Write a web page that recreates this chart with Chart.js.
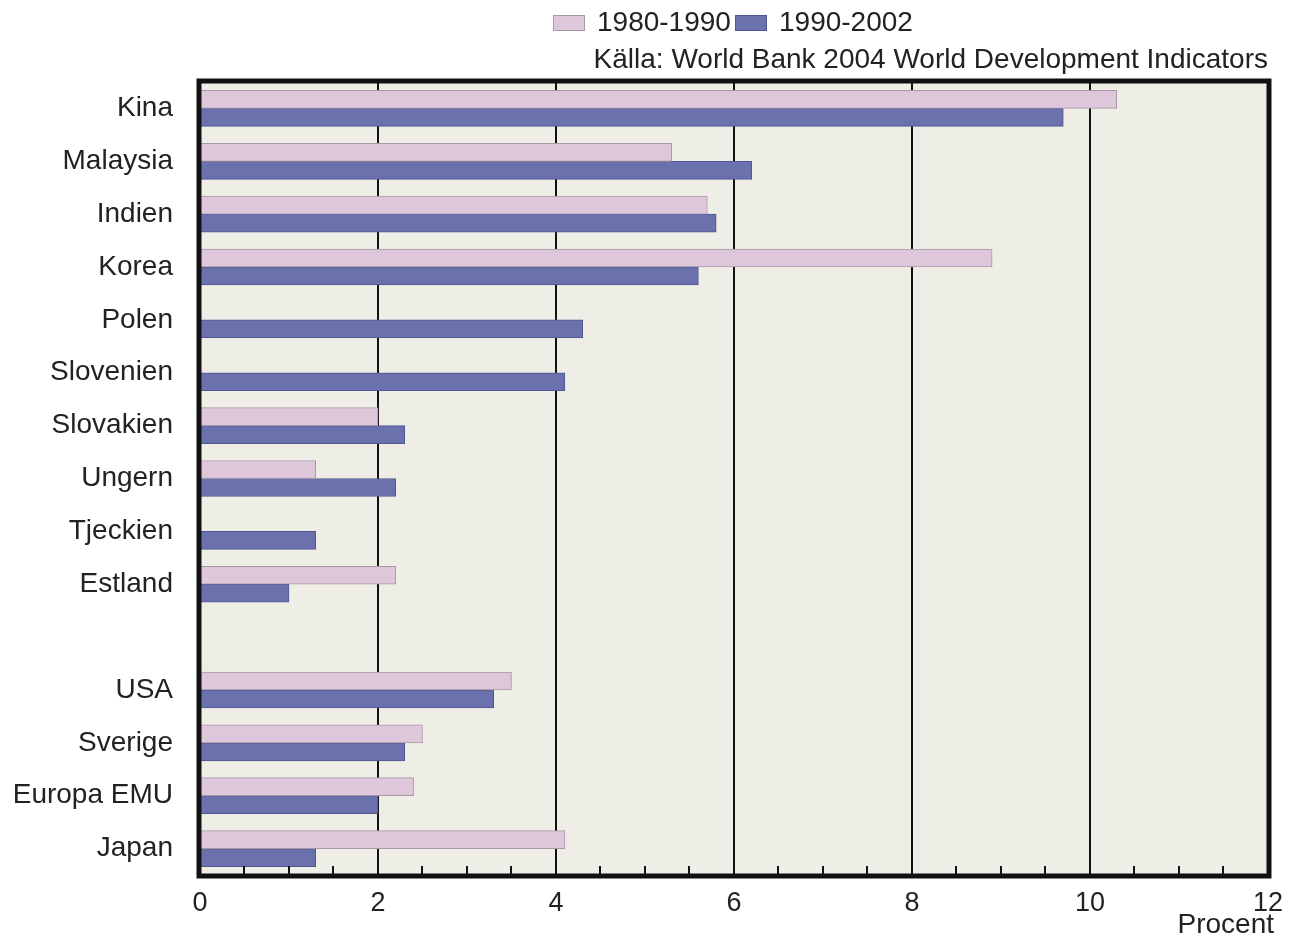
<!DOCTYPE html>
<html>
<head>
<meta charset="utf-8">
<script src="https://cdn.jsdelivr.net/npm/chart.js@4.4.1/dist/chart.umd.min.js"></script>
<style>
  html, body { margin: 0; padding: 0; background: #fff; }
  #wrap { width: 1295px; height: 938px; }
</style>
</head>
<body>
<div id="wrap"><canvas id="chart" width="1295" height="938"></canvas></div>
<script>
/* Data */
const categories = ['Kina', 'Malaysia', 'Indien', 'Korea', 'Polen', 'Slovenien', 'Slovakien',
    'Ungern', 'Tjeckien', 'Estland', '', 'USA', 'Sverige', 'Europa EMU', 'Japan'];
const growth1980_1990 = [10.3, 5.3, 5.7, 8.9, null, null, 2.0, 1.3, null, 2.2, null, 3.5, 2.5, 2.4, 4.1];
const growth1990_2002 = [9.7, 6.2, 5.8, 5.6, 4.3, 4.1, 2.3, 2.2, 1.3, 1.0, null, 3.3, 2.3, 2.0, 1.3];
const seriesNames = ['1980-1990', '1990-2002'];
const sourceText = 'Källa: World Bank 2004 World Development Indicators';
const unitText = 'Procent';

const PINK = '#dec7da', PINK_EDGE = '#a898a6';
const BLUE = '#6a71ad', BLUE_EDGE = '#4f5690';
const FONT = '"Liberation Sans", Arial, sans-serif';
const TXT = '#222';

/* Background, frame, minor ticks and texts */
const decor = {
    id: 'decor',
    beforeDraw(chart){
        const a = chart.chartArea, ctx = chart.ctx;
        ctx.save();
        ctx.fillStyle = '#efeee6';
        ctx.fillRect(a.left, a.top, a.right - a.left, a.bottom - a.top);
        ctx.restore();
    },
    afterDatasetsDraw(chart){
        const a = chart.chartArea, ctx = chart.ctx, x = chart.scales.x;
        ctx.save();
        // minor ticks on the bottom axis
        ctx.strokeStyle = '#111';
        ctx.lineWidth = 2;
        for(let v = 0.5; v < 12; v += 0.5){
            if(v % 2 == 0) continue;
            const px = Math.round(x.getPixelForValue(v));
            ctx.beginPath();
            ctx.moveTo(px, a.bottom);
            ctx.lineTo(px, a.bottom - 9);
            ctx.stroke();
        }
        // frame
        ctx.lineWidth = 5;
        ctx.strokeStyle = '#111';
        ctx.strokeRect(a.left - 1, a.top - 1, a.right - a.left + 2, a.bottom - a.top + 2);

        // legend
        ctx.font = '28px ' + FONT;
        ctx.textBaseline = 'middle';
        ctx.textAlign = 'left';
        const boxX = [553, 735];
        const ly = 23;
        const swatches = [[PINK, PINK_EDGE], [BLUE, BLUE_EDGE]];
        seriesNames.forEach(function(name, i){
            const lx = boxX[i];
            ctx.fillStyle = swatches[i][0];
            ctx.fillRect(lx, ly - 8, 32, 16);
            ctx.strokeStyle = swatches[i][1];
            ctx.lineWidth = 1;
            ctx.strokeRect(lx + 0.5, ly - 7.5, 31, 15);
            ctx.fillStyle = TXT;
            ctx.fillText(name, lx + 44, ly);
        });

        // source + unit
        ctx.textAlign = 'right';
        ctx.fillText(sourceText, a.right, 60);
        ctx.fillText(unitText, a.right + 6, 925);
        ctx.restore();
    }
};

new Chart(document.getElementById('chart'), {
    type: 'bar',
    data: {
        labels: categories,
        datasets: [
            {label: seriesNames[0], data: growth1980_1990, backgroundColor: PINK,
             borderColor: PINK_EDGE, borderWidth: 1, barThickness: 18, borderSkipped: 'start'},
            {label: seriesNames[1], data: growth1990_2002, backgroundColor: BLUE,
             borderColor: BLUE_EDGE, borderWidth: 1, barThickness: 18, borderSkipped: 'start'}
        ]
    },
    options: {
        indexAxis: 'y',
        responsive: false,
        animation: false,
        layout: {padding: {top: 82, right: 27, left: 0, bottom: 0}},
        plugins: {
            legend: {display: false},
            tooltip: {enabled: false}
        },
        scales: {
            x: {
                min: 0,
                max: 12,
                afterFit: function(s){ s.height = 63; },
                ticks: {
                    stepSize: 2,
                    padding: 12,
                    color: TXT,
                    font: {family: FONT, size: 27}
                },
                grid: {color: '#111', lineWidth: 2, drawTicks: false},
                border: {display: false}
            },
            y: {
                afterFit: function(s){ s.width = 200; },
                ticks: {
                    padding: 27,
                    color: TXT,
                    autoSkip: false,
                    font: {family: FONT, size: 28}
                },
                grid: {display: false, drawTicks: false},
                border: {display: false}
            }
        }
    },
    plugins: [decor]
});
</script>
</body>
</html>
